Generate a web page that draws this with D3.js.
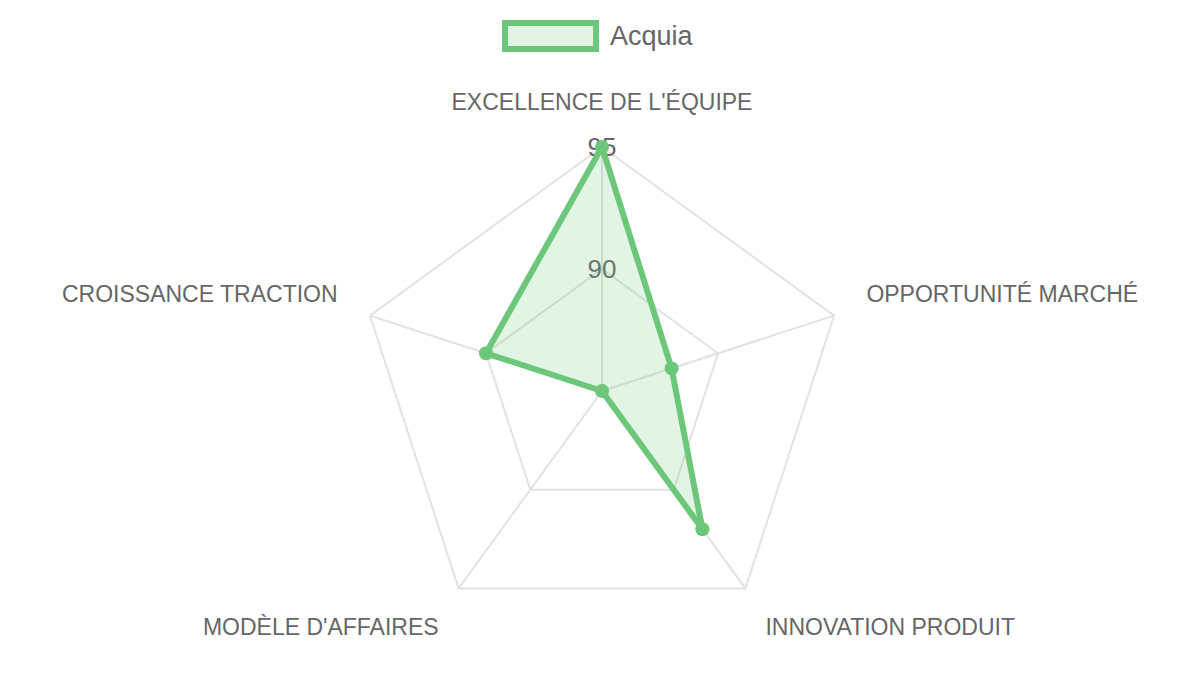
<!DOCTYPE html>
<html lang="fr">
<head>
  <meta charset="UTF-8">
  <title>Radar Acquia</title>

  <style>
    html, body {
      margin: 0;
      padding: 0;
      background: #ffffff;
    }
    svg {
      display: block;
      font-family: "Liberation Sans", Arial, sans-serif;
    }
  </style>

  <script type="text/javascript" src="https://d3js.org/d3.v7.min.js"></script>
</head>

<body>
</body>

<script type="text/javascript">

  var axes = [
    "EXCELLENCE DE L'ÉQUIPE",
    "OPPORTUNITÉ MARCHÉ",
    "INNOVATION PRODUIT",
    "MODÈLE D'AFFAIRES",
    "CROISSANCE TRACTION"
  ];
  var seriesName = "Acquia";
  var values = [95, 88, 92, 85, 90];
  var ticks = [90, 95];

  var width = 1200, height = 675;
  var cx = 602, cy = 391, R = 244;
  var color = "rgb(108, 199, 122)";

  var svg = d3.select("body")
    .append("svg")
    .attr("width", width)
    .attr("height", height);

  var r = d3.scaleLinear().domain([85, 95]).range([0, R]);
  var angle = d3.scalePoint().domain(axes).range([0, 2 * Math.PI * (axes.length - 1) / axes.length]);

  function pt(axis, radius) {
    var a = angle(axis);
    return [cx + radius * Math.sin(a), cy - radius * Math.cos(a)];
  }

  var plot = svg.append("g").attr("id", "plot-area");

  // rings
  plot.selectAll("polygon.ring")
    .data(ticks)
    .enter()
    .append("polygon")
    .attr("class", "ring")
    .attr("points", function(t) {
      return axes.map(function(a) { return pt(a, r(t)).join(","); }).join(" ");
    })
    .attr("fill", "none")
    .attr("stroke", "#e2e2e2")
    .attr("stroke-width", 2);

  // angle lines
  plot.selectAll("line.spoke")
    .data(axes)
    .enter()
    .append("line")
    .attr("class", "spoke")
    .attr("x1", cx)
    .attr("y1", cy)
    .attr("x2", function(a) { return pt(a, R)[0]; })
    .attr("y2", function(a) { return pt(a, R)[1]; })
    .attr("stroke", "#e2e2e2")
    .attr("stroke-width", 2);

  // point labels
  plot.selectAll("text.axis-label")
    .data(axes)
    .enter()
    .append("text")
    .attr("class", "axis-label")
    .attr("x", function(a) { return pt(a, R + 34)[0]; })
    .attr("y", function(a) {
      var p = pt(a, R + 34);
      return p[1] < cy ? p[1] - 3 : p[1] + 19;
    })
    .attr("text-anchor", function(a) {
      var s = Math.sin(angle(a));
      if (Math.abs(s) < 0.01) return "middle";
      return s > 0 ? "start" : "end";
    })
    .attr("font-size", 23)
    .attr("fill", "#666666")
    .text(function(a) { return a; });

  // tick labels
  plot.selectAll("text.tick")
    .data(ticks)
    .enter()
    .append("text")
    .attr("class", "tick")
    .attr("x", cx)
    .attr("y", function(t) { return cy - r(t) + 9; })
    .attr("text-anchor", "middle")
    .attr("font-size", 26)
    .attr("fill", "#666666")
    .text(function(t) { return t; });

  // dataset
  var pts = axes.map(function(a, i) { return pt(a, r(values[i])); });

  plot.append("path")
    .datum(pts)
    .attr("d", d3.line().curve(d3.curveLinearClosed))
    .attr("fill", color)
    .attr("fill-opacity", 0.2)
    .attr("stroke", color)
    .attr("stroke-width", 6)
    .attr("stroke-linejoin", "miter");

  plot.selectAll("circle")
    .data(pts)
    .enter()
    .append("circle")
    .attr("cx", function(d) { return d[0]; })
    .attr("cy", function(d) { return d[1]; })
    .attr("r", 7)
    .attr("fill", color);

  // legend
  var legend = svg.append("g").attr("id", "legend");
  legend.append("rect")
    .attr("x", 505)
    .attr("y", 23)
    .attr("width", 91)
    .attr("height", 26)
    .attr("fill", color)
    .attr("fill-opacity", 0.2)
    .attr("stroke", color)
    .attr("stroke-width", 6);
  legend.append("text")
    .attr("x", 610)
    .attr("y", 45)
    .attr("font-size", 27)
    .attr("fill", "#666666")
    .text(seriesName);

</script>

</html>
